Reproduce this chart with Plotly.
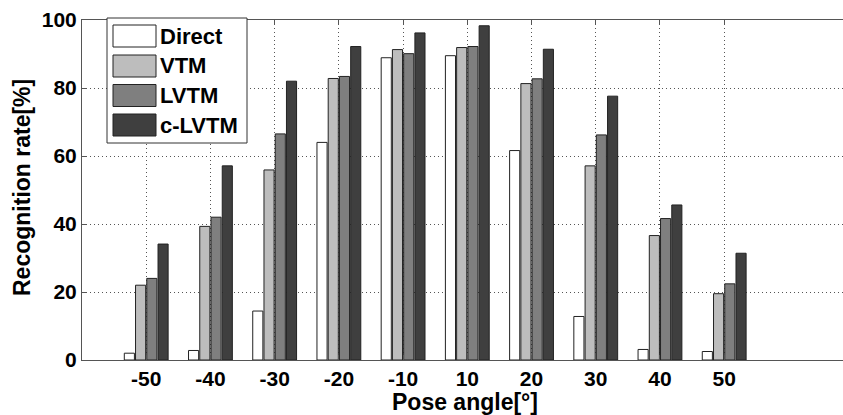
import plotly.graph_objects as go

angles = ["-50", "-40", "-30", "-20", "-10", "10", "20", "30", "40", "50"]
series_names = ["Direct", "VTM", "LVTM", "c-LVTM"]
direct = [2.0, 2.8, 14.4, 64.0, 88.9, 89.5, 61.6, 12.8, 3.1, 2.5]
vtm = [22.0, 39.3, 55.9, 82.8, 91.3, 91.9, 81.3, 57.1, 36.6, 19.5]
lvtm = [24.0, 42.0, 66.5, 83.4, 90.1, 92.2, 82.7, 66.2, 41.6, 22.4]
clvtm = [34.1, 57.1, 82.0, 92.2, 96.2, 98.3, 91.4, 77.6, 45.6, 31.4]
y_ticks = [0, 20, 40, 60, 80, 100]

series_values = [direct, vtm, lvtm, clvtm]
colors = ["#ffffff", "#bdbdbd", "#7f7f7f", "#3f3f3f"]
positions = list(range(1, len(angles) + 1))

FONT = "Liberation Sans, Arial, sans-serif"

fig = go.Figure()
for name, vals, col in zip(series_names, series_values, colors):
    fig.add_trace(go.Bar(
        x=positions, y=vals, name=name,
        marker=dict(color=col, line=dict(color="#222222", width=1)),
        showlegend=False,
    ))

# custom legend (MATLAB-style box with wide swatches)
W, H = 761.0, 340.0
def px_x(p):
    return (p - 82) / W
def px_y(p):
    return (360 - p) / H

shapes = [dict(type="rect", xref="paper", yref="paper",
               x0=px_x(107), x1=px_x(247), y0=px_y(143), y1=px_y(18),
               fillcolor="white", line=dict(color="#333333", width=1), layer="above")]
annotations = []
row_centers = [36, 66, 95.5, 125]
for name, col, cy in zip(series_names, colors, row_centers):
    shapes.append(dict(type="rect", xref="paper", yref="paper",
                       x0=px_x(113), x1=px_x(156), y0=px_y(cy + 11), y1=px_y(cy - 11),
                       fillcolor=col, line=dict(color="#222222", width=1), layer="above"))
    annotations.append(dict(xref="paper", yref="paper", x=px_x(158), y=px_y(cy),
                            xanchor="left", yanchor="middle", text=name, showarrow=False,
                            font=dict(family=FONT, size=22, color="black", weight="bold")))

# axis titles
annotations.append(dict(xref="paper", yref="paper", x=px_x(465), y=px_y(402),
                        xanchor="center", yanchor="middle", text="Pose angle[°]",
                        showarrow=False,
                        font=dict(family=FONT, size=23, color="black", weight="bold")))
annotations.append(dict(xref="paper", yref="paper", x=px_x(22), y=px_y(188),
                        xanchor="center", yanchor="middle", text="Recognition rate[%]",
                        showarrow=False, textangle=-90,
                        font=dict(family=FONT, size=23, color="black", weight="bold")))

fig.update_layout(
    width=843, height=415,
    margin=dict(l=82, r=0, t=20, b=55),
    paper_bgcolor="white", plot_bgcolor="white",
    barmode="group", bargap=0.3, bargroupgap=0.1,
    shapes=shapes, annotations=annotations,
    showlegend=False,
)
fig.update_xaxes(
    range=[0, 11.85], tickmode="array", tickvals=positions, ticktext=angles,
    tickfont=dict(family=FONT, size=21, color="black", weight="bold"),
    showgrid=True, gridcolor="#555555", griddash="1px,3px", gridwidth=1,
    showline=True, linecolor="#555555", linewidth=1, mirror="ticks",
    ticks="inside", ticklen=5, tickcolor="#555555",
    zeroline=False, automargin=False,
)
fig.update_yaxes(
    range=[0, 100], tickmode="array", tickvals=y_ticks,
    tickfont=dict(family=FONT, size=21, color="black", weight="bold"),
    showgrid=True, gridcolor="#555555", griddash="1px,3px", gridwidth=1,
    showline=True, linecolor="#555555", linewidth=1,
    ticks="inside", ticklen=5, tickcolor="#555555",
    zeroline=False, automargin=False,
)

fig.write_html("out.html", config={"displayModeBar": False},
               post_script="document.body.style.margin='0';document.body.style.overflow='hidden';")
